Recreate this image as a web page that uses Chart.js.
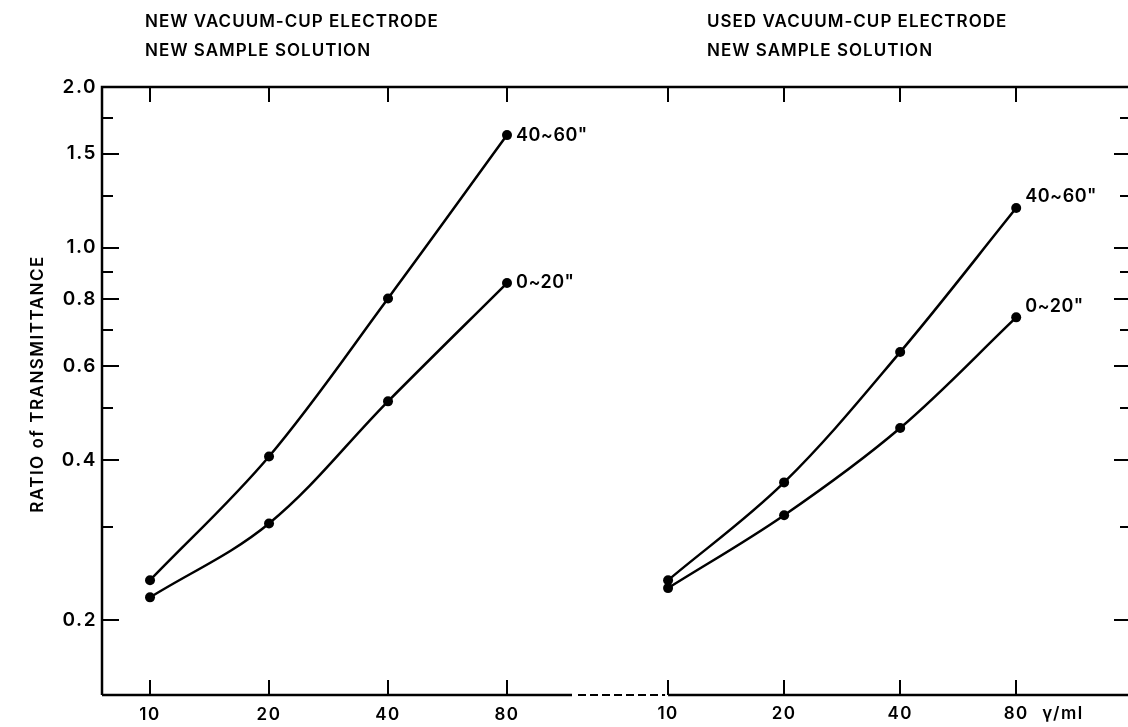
<!DOCTYPE html>
<html>
<head>
<meta charset="utf-8">
<script src="https://cdn.jsdelivr.net/npm/chart.js@4/dist/chart.umd.min.js"></script>
<style>
  html, body { margin: 0; padding: 0; background: #fff; overflow: hidden; }
  #wrap { width: 1128px; height: 727px; }
</style>
</head>
<body>
<div id="wrap"><canvas id="chart" width="1128" height="727"></canvas></div>
<script>
// concentration (γ/ml), same for both panels
const concentrations = [10, 20, 40, 80];
// ratio of transmittance
const newCup_40_60 = [0.238, 0.406, 0.803, 1.625];
const newCup_0_20 = [0.221, 0.304, 0.515, 0.858];
const usedCup_40_60 = [0.238, 0.363, 0.637, 1.186];
const usedCup_0_20 = [0.230, 0.315, 0.459, 0.740];

const yMajorTicks = [0.2, 0.4, 0.6, 0.8, 1.0, 1.5, 2.0];
const yMinorTicks = [0.3, 0.5, 0.7, 0.9, 1.25, 1.75];
const seriesLabels = ['40~60"', '0~20"'];

const INK = "#000";
const FONT = 'Inter, "DejaVu Sans", sans-serif';
const W = "600 ";

function pts(values) {
  return concentrations.map((c, i) => ({ x: c, y: values[i] }));
}

function lineSet(values, axis, label) {
  return {
    label: label,
    data: pts(values),
    xAxisID: axis,
    borderColor: INK,
    backgroundColor: INK,
    borderWidth: 2.5,
    pointRadius: 5,
    pointHoverRadius: 5,
    pointBorderWidth: 0,
    tension: 0.35,
  };
}

// wide lettering like the original stencil text
const spacing = {
  id: "spacing",
  beforeDraw(chart) {
    chart.ctx.letterSpacing = "1.5px";
  },
};

// frame, inward ticks, titles and curve labels
const decorations = {
  id: "decorations",
  afterDraw(chart) {
    const ctx = chart.ctx;
    const a = chart.chartArea;
    const xs = chart.scales.x;
    const x2 = chart.scales.x2;
    const ys = chart.scales.y;
    ctx.save();
    ctx.strokeStyle = INK;
    ctx.fillStyle = INK;
    ctx.lineWidth = 2.5;
    ctx.lineCap = "butt";

    // frame
    ctx.beginPath();
    ctx.moveTo(a.left, a.bottom);
    ctx.lineTo(a.left, a.top);
    ctx.lineTo(a.right, a.top);
    ctx.moveTo(a.left, a.bottom);
    ctx.lineTo(a.left + 470, a.bottom);
    ctx.moveTo(x2.getPixelForValue(10), a.bottom);
    ctx.lineTo(a.right, a.bottom);
    ctx.stroke();
    ctx.setLineDash([8, 4]);
    ctx.lineWidth = 2;
    ctx.beginPath();
    ctx.moveTo(a.left + 476, a.bottom);
    ctx.lineTo(x2.getPixelForValue(10) - 3, a.bottom);
    ctx.stroke();
    ctx.setLineDash([]);

    // x ticks (top & bottom) for both panels
    ctx.lineWidth = 2;
    ctx.beginPath();
    [xs, x2].forEach((sc) => {
      concentrations.forEach((c) => {
        const px = Math.round(sc.getPixelForValue(c));
        ctx.moveTo(px, a.top);
        ctx.lineTo(px, a.top + 15);
        ctx.moveTo(px, a.bottom);
        ctx.lineTo(px, a.bottom - 15);
      });
    });
    // y ticks, left and right
    yMajorTicks.forEach((v) => {
      const py = Math.round(ys.getPixelForValue(v));
      ctx.moveTo(a.left, py);
      ctx.lineTo(a.left + 17, py);
      ctx.moveTo(a.right, py);
      ctx.lineTo(a.right - 14, py);
    });
    yMinorTicks.forEach((v) => {
      const py = Math.round(ys.getPixelForValue(v));
      ctx.moveTo(a.left, py);
      ctx.lineTo(a.left + 11, py);
      ctx.moveTo(a.right, py);
      ctx.lineTo(a.right - 8, py);
    });
    ctx.stroke();

    // right panel tick labels
    ctx.letterSpacing = "1.5px";
    ctx.font = W + "17px " + FONT;
    ctx.textAlign = "center";
    ctx.textBaseline = "middle";
    concentrations.forEach((c) => {
      ctx.fillText(String(c), x2.getPixelForValue(c), a.bottom + 19);
    });
    ctx.textAlign = "left";
    ctx.fillText("γ/ml", x2.getPixelForValue(80) + 26, a.bottom + 19);

    // panel titles
    ctx.letterSpacing = "1px";
    ctx.font = W + "17px " + FONT;
    ctx.fillText("NEW VACUUM-CUP ELECTRODE", 145, 22);
    ctx.fillText("NEW SAMPLE SOLUTION", 145, 51);
    ctx.fillText("USED VACUUM-CUP ELECTRODE", 707, 22);
    ctx.fillText("NEW SAMPLE SOLUTION", 707, 51);

    // y title
    ctx.save();
    ctx.translate(38, 384);
    ctx.rotate(-Math.PI / 2);
    ctx.textAlign = "center";
    ctx.letterSpacing = "1.5px";
    ctx.font = W + "17px " + FONT;
    ctx.fillText("RATIO of TRANSMITTANCE", 0, 0);
    ctx.restore();

    // curve labels at last points
    ctx.letterSpacing = "0.5px";
    ctx.font = W + "18px " + FONT;
    ctx.textAlign = "left";
    chart.data.datasets.forEach((ds, i) => {
      const meta = chart.getDatasetMeta(i);
      const last = meta.data[meta.data.length - 1];
      const dy = ds.xAxisID === "x2" ? -11 : 0;
      ctx.fillText(ds.label, last.x + 9, last.y + dy);
    });
    ctx.restore();
  },
};

new Chart(document.getElementById("chart"), {
  type: "line",
  data: {
    datasets: [
      lineSet(newCup_40_60, "x", seriesLabels[0]),
      lineSet(newCup_0_20, "x", seriesLabels[1]),
      lineSet(usedCup_40_60, "x2", seriesLabels[0]),
      lineSet(usedCup_0_20, "x2", seriesLabels[1]),
    ],
  },
  options: {
    responsive: false,
    animation: false,
    layout: { autoPadding: false, padding: { top: 87, left: 0, right: 0, bottom: 0 } },
    plugins: {
      legend: { display: false },
      tooltip: { enabled: false },
    },
    scales: {
      x: {
        type: "logarithmic",
        position: "bottom",
        bounds: "data",
        min: 7.56,
        max: 2979,
        afterBuildTicks: (sc) => {
          sc.ticks = concentrations.map((v) => ({ value: v }));
        },
        afterFit: (sc) => {
          sc.height = 32;
          sc.paddingLeft = 0;
          sc.paddingRight = 0;
        },
        grid: { display: false, drawTicks: false },
        border: { display: false },
        ticks: {
          color: INK,
          padding: 10,
          maxRotation: 0,
          font: { family: FONT, size: 17, weight: 600 },
          callback: (v) => String(v),
        },
      },
      x2: {
        type: "logarithmic",
        position: "bottom",
        display: false,
        bounds: "data",
        min: 0.34,
        max: 156,
      },
      y: {
        type: "logarithmic",
        bounds: "data",
        min: 0.145,
        max: 2.0,
        afterBuildTicks: (sc) => {
          sc.ticks = yMajorTicks.map((v) => ({ value: v }));
        },
        afterFit: (sc) => {
          sc.width = 102;
          sc.paddingTop = 0;
          sc.paddingBottom = 0;
        },
        grid: { display: false, drawTicks: false },
        border: { display: false },
        ticks: {
          color: INK,
          padding: 5,
          font: { family: FONT, size: 19, weight: 600 },
          callback: (v) => v.toFixed(1),
        },
      },
    },
  },
  plugins: [spacing, decorations],
});
</script>
</body>
</html>
